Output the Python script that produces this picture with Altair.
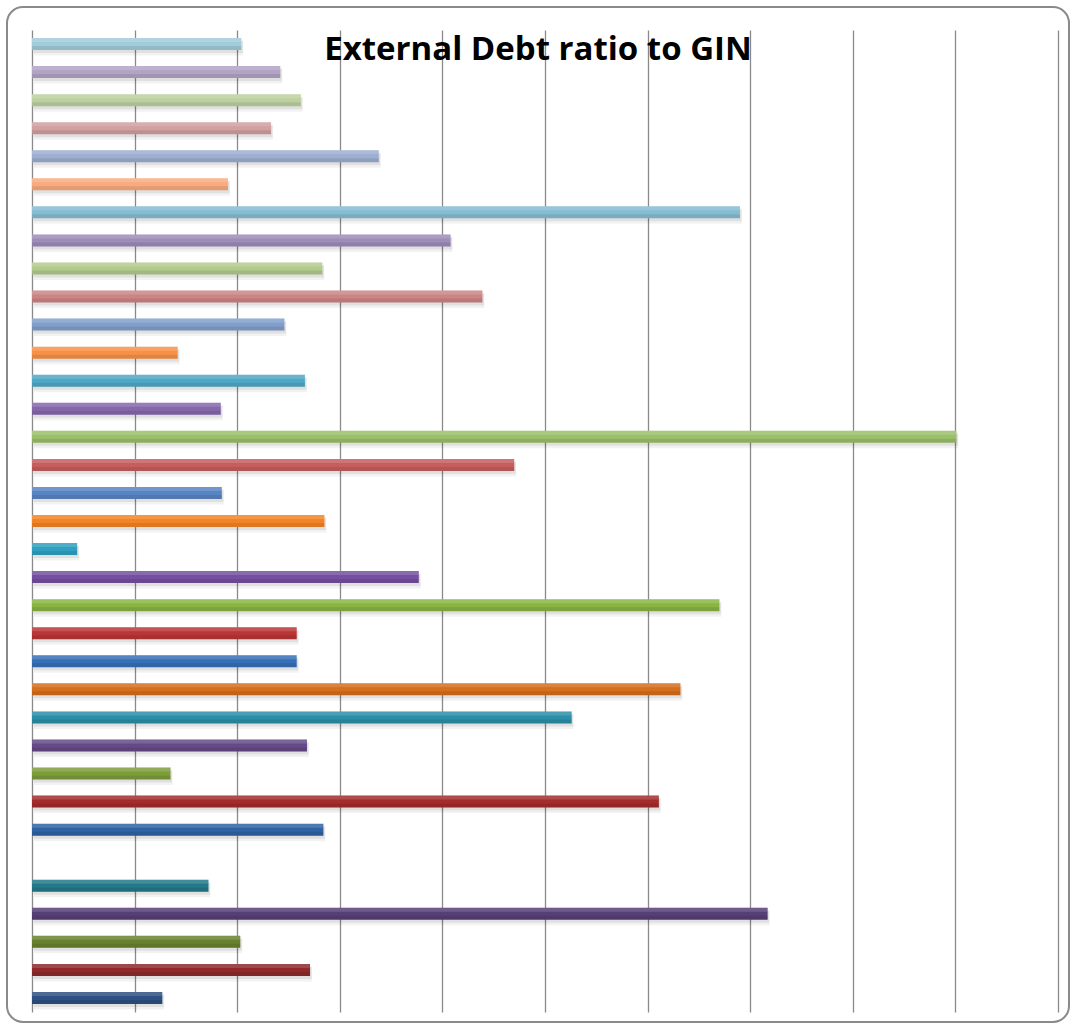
import altair as alt
import pandas as pd

# Categories listed from the bottom bar (first) to the top bar (last)
categories = [str(i) for i in range(1, 36)]
values = [12.7, 27.1, 20.3, 71.7, 17.2, 0.0, 28.4, 61.1, 13.5, 26.8,
          52.6, 63.2, 25.8, 25.8, 67.0, 37.7, 4.4, 28.5, 18.5, 47.0,
          90.1, 18.4, 26.6, 14.2, 24.6, 43.9, 28.3, 40.8, 69.0, 19.1,
          33.8, 23.3, 26.2, 24.2, 20.4]

palette = [
    "#2C5182", "#8E2A2A", "#68812F", "#563F75", "#23788A", "#B35F1C",
    "#2F63A3", "#A32D2D", "#7D9D3B", "#644A87", "#2B8FA8", "#D56E1D",
    "#3570B8", "#BA3535", "#8AB543", "#7550A0", "#2FA0C0", "#F38426",
    "#5984C3", "#C65E5E", "#9CC06A", "#8568AB", "#4FA9C6", "#F89148",
    "#829FCC", "#CB8584", "#B2CB8D", "#9E8CB9", "#86BDD3", "#F9AB7E",
    "#9DAED0", "#D1A0A0", "#BDD1A0", "#B2A4C6", "#A3CCDA",
]

grid_values = list(range(0, 101, 10))
title_text = "External Debt ratio to GIN"

df = pd.DataFrame({"category": categories, "value": values})

y_enc = alt.Y("category:N", sort=categories[::-1],
              scale=alt.Scale(paddingInner=0.6, paddingOuter=0.3), axis=None)
x_enc = alt.X("value:Q", scale=alt.Scale(domain=[0, 100], nice=False),
              axis=alt.Axis(grid=True, labels=False, ticks=False, domain=False,
                            title=None, values=grid_values,
                            gridColor="#8a8a8a", gridWidth=1.3))

base = alt.Chart(df).encode(y=y_enc, x=x_enc)

shadow1 = base.transform_filter("datum.value > 0").mark_bar(
    size=15, yOffset=4, xOffset=2, color="#000000", opacity=0.05)
shadow2 = base.transform_filter("datum.value > 0").mark_bar(
    size=12, yOffset=3, xOffset=1.5, color="#000000", opacity=0.07)
main = base.mark_bar(size=12).encode(
    color=alt.Color("category:N", scale=alt.Scale(domain=categories, range=palette),
                    legend=None))
hi = base.mark_bar(size=4, yOffset=-4, color="white", opacity=0.15)
lo = base.mark_bar(size=4, yOffset=4, color="black", opacity=0.09)

frame = alt.Chart(pd.DataFrame({"f": [0]})).mark_rect(
    fillOpacity=0, stroke="#8a8a8a", strokeWidth=2, cornerRadius=16
).encode(x=alt.value(-25), x2=alt.value(1037), y=alt.value(-23), y2=alt.value(992))

title = alt.Chart(pd.DataFrame({"t": [title_text]})).mark_text(
    font="Open Sans", fontSize=33, fontWeight="bold", color="black",
    align="center", baseline="alphabetic"
).encode(text="t:N", x=alt.value(506), y=alt.value(29.5))

chart = alt.layer(frame, shadow1, shadow2, main, hi, lo, title).properties(
    width=1026, height=982,
    autosize=alt.AutoSizeParams(type="none"),
    padding={"left": 32, "top": 30, "right": 15, "bottom": 14},
    background="white",
).configure_view(strokeWidth=0)

chart.save("out.html", embed_options={"renderer": "svg", "actions": False})
